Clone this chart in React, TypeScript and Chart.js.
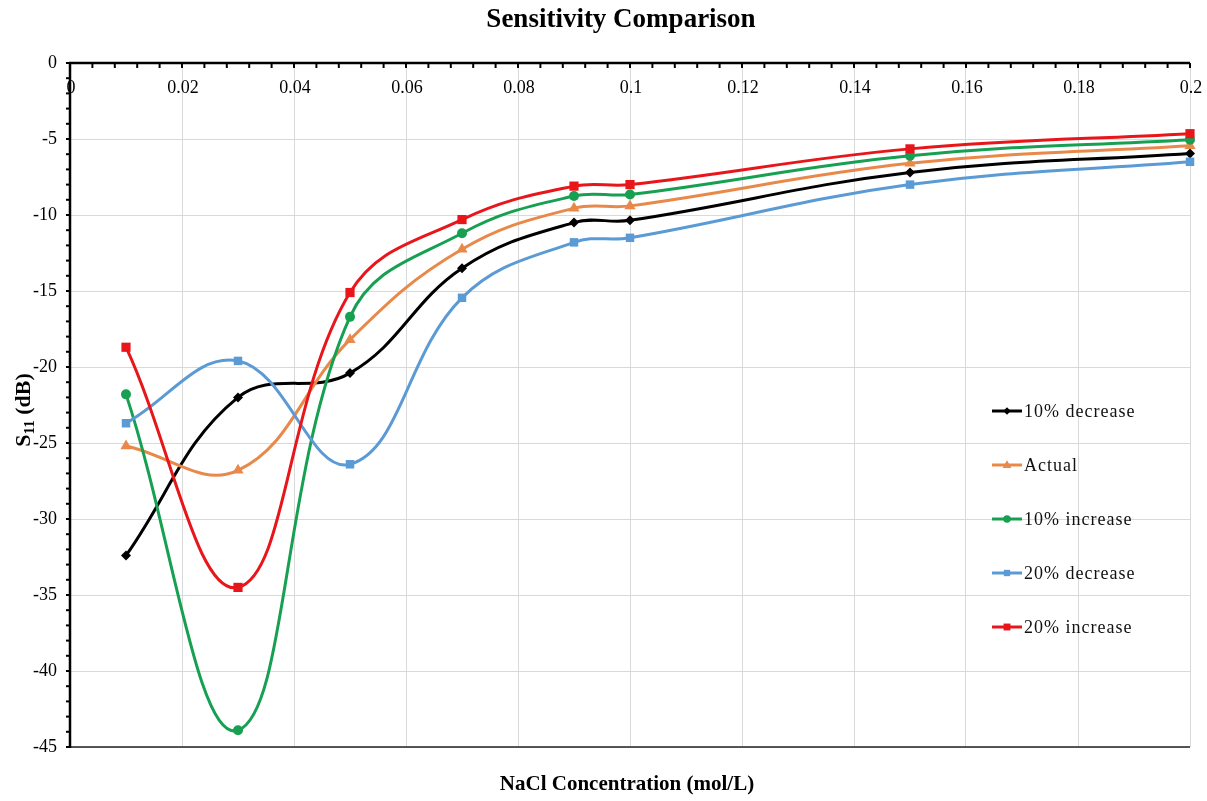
import React, { useEffect, useRef } from 'react';
import { Chart, registerables } from 'chart.js';

Chart.register(...registerables);

// ---------- data ----------
const concentrations = [0.01, 0.03, 0.05, 0.07, 0.09, 0.1, 0.15, 0.2];
const decrease10 = [-32.4, -22.0, -20.4, -13.5, -10.5, -10.35, -7.2, -5.95];
const actual = [-25.2, -26.8, -18.2, -12.25, -9.55, -9.4, -6.6, -5.45];
const increase10 = [-21.8, -43.9, -16.7, -11.2, -8.75, -8.65, -6.1, -5.05];
const decrease20 = [-23.7, -19.6, -26.4, -15.45, -11.8, -11.5, -8.0, -6.5];
const increase20 = [-18.7, -34.5, -15.1, -10.3, -8.1, -8.0, -5.65, -4.65];

const seriesNames = ['10% decrease', 'Actual', '10% increase', '20% decrease', '20% increase'];
const seriesValues = [decrease10, actual, increase10, decrease20, increase20];
const seriesColors = ['#000000', '#E8894A', '#17A052', '#5B9BD5', '#E8161A'];
const seriesMarkers = ['rectRot', 'triangle', 'circle', 'rect', 'rect'];
const markerRadius = [5, 6.5, 5, 6, 6.5];

const xTickValues = [0, 0.02, 0.04, 0.06, 0.08, 0.1, 0.12, 0.14, 0.16, 0.18, 0.2];
const xTickLabels = ['0', '0.02', '0.04', '0.06', '0.08', '0.1', '0.12', '0.14', '0.16', '0.18', '0.2'];

const chartTitle = 'Sensitivity Comparison';
const xTitle = 'NaCl Concentration (mol/L)';

const SERIF = "'Liberation Serif', 'Times New Roman', serif";

function drawMarker(ctx: CanvasRenderingContext2D, style: string, x: number, y: number, r: number, color: string) {
  ctx.save();
  ctx.fillStyle = color;
  ctx.beginPath();
  if (style === 'circle') {
    ctx.arc(x, y, r, 0, Math.PI * 2);
  } else if (style === 'rect') {
    const s = r * Math.SQRT1_2;
    ctx.rect(x - s, y - s, 2 * s, 2 * s);
  } else if (style === 'rectRot') {
    ctx.moveTo(x, y - r);
    ctx.lineTo(x + r, y);
    ctx.lineTo(x, y + r);
    ctx.lineTo(x - r, y);
    ctx.closePath();
  } else if (style === 'triangle') {
    ctx.moveTo(x, y - r);
    ctx.lineTo(x + r * 0.9, y + r * 0.6);
    ctx.lineTo(x - r * 0.9, y + r * 0.6);
    ctx.closePath();
  }
  ctx.fill();
  ctx.restore();
}

const decorPlugin = {
  id: 'decor',
  afterDraw(chart: any) {
    const ctx: CanvasRenderingContext2D = chart.ctx;
    const a = chart.chartArea;
    const xs = chart.scales.x;
    const ys = chart.scales.y;
    const line = (x1: number, y1: number, x2: number, y2: number) => {
      ctx.beginPath();
      ctx.moveTo(x1, y1);
      ctx.lineTo(x2, y2);
      ctx.stroke();
    };
    ctx.save();

    // bottom border line
    ctx.strokeStyle = '#222';
    ctx.lineWidth = 1.5;
    line(a.left, a.bottom, a.right, a.bottom);

    // left axis
    ctx.strokeStyle = '#000';
    ctx.lineWidth = 2.5;
    line(a.left, a.top - 1, a.left, a.bottom + 1);
    ctx.lineWidth = 2;
    const yMin = ys.min, yMax = ys.max;
    for (let v = yMin; v <= yMax + 1e-9; v += 1) {
      const py = ys.getPixelForValue(v);
      line(a.left - 4, py, a.left, py);
    }

    // top axis
    ctx.lineWidth = 2.5;
    line(a.left - 1, a.top, a.right, a.top);
    ctx.lineWidth = 2;
    const minor = 0.004;
    const n = Math.round((xs.max - xs.min) / minor);
    for (let i = 0; i <= n; i++) {
      const px = xs.getPixelForValue(xs.min + i * minor);
      line(px, a.top, px, a.top + 5);
    }

    // x tick labels (inside, below top axis)
    ctx.fillStyle = '#000';
    ctx.font = `18px ${SERIF}`;
    ctx.textAlign = 'center';
    ctx.textBaseline = 'middle';
    xTickValues.forEach((v, i) => {
      ctx.fillText(xTickLabels[i], xs.getPixelForValue(v) + 1, a.top + 25);
    });

    // chart title
    ctx.font = `bold 27px ${SERIF}`;
    ctx.fillText(chartTitle, 621, 20);

    // x title
    ctx.font = `bold 21px ${SERIF}`;
    ctx.fillText(xTitle, 627, 785);

    // y title with subscript
    ctx.save();
    ctx.translate(22, 410);
    ctx.rotate(-Math.PI / 2);
    ctx.textAlign = 'left';
    ctx.textBaseline = 'alphabetic';
    const big = `bold 22px ${SERIF}`;
    const small = `bold 15px ${SERIF}`;
    ctx.font = big;
    const wS = ctx.measureText('S').width;
    const wRest = ctx.measureText(' (dB)').width;
    ctx.font = small;
    const wSub = ctx.measureText('11').width;
    const total = wS + wSub + wRest;
    let cx = -total / 2;
    const base = 8;
    ctx.font = big;
    ctx.fillText('S', cx, base);
    cx += wS;
    ctx.font = small;
    ctx.fillText('11', cx, base + 4);
    cx += wSub;
    ctx.font = big;
    ctx.fillText(' (dB)', cx, base);
    ctx.restore();

    // legend
    ctx.font = `18px ${SERIF}`;
    (ctx as any).letterSpacing = '1px';
    ctx.textAlign = 'left';
    ctx.textBaseline = 'middle';
    seriesNames.forEach((name, i) => {
      const ly = 411 + i * 54;
      ctx.strokeStyle = seriesColors[i];
      ctx.lineWidth = 3;
      line(992, ly, 1022, ly);
      drawMarker(ctx, seriesMarkers[i], 1007, ly, markerRadius[i] * 0.75, seriesColors[i]);
      ctx.fillStyle = '#111';
      ctx.fillText(name, 1024, ly + 1);
    });
    (ctx as any).letterSpacing = '0px';

    ctx.restore();
  },
};

export default function App() {
  const canvasRef = useRef<HTMLCanvasElement | null>(null);

  useEffect(() => {
    const canvas = canvasRef.current;
    if (!canvas) return;
    const datasets = seriesNames.map((name, i) => ({
      label: name,
      data: concentrations.map((c, j) => ({ x: c, y: seriesValues[i][j] })),
      borderColor: seriesColors[i],
      backgroundColor: seriesColors[i],
      borderWidth: 3,
      pointStyle: seriesMarkers[i] as any,
      pointRadius: markerRadius[i],
      pointBorderWidth: 0,
      pointBackgroundColor: seriesColors[i],
      tension: 0.4,
      cubicInterpolationMode: 'default' as const,
      clip: false as any,
      order: seriesNames.length - 1 - i,
    }));

    const chart = new Chart(canvas, {
      type: 'line',
      data: { datasets },
      options: {
        responsive: false,
        animation: false,
        devicePixelRatio: 1,
        layout: { padding: { left: 0, right: 17, top: 63, bottom: 54 } },
        plugins: {
          legend: { display: false },
          title: { display: false },
          tooltip: { enabled: false },
        },
        scales: {
          x: {
            type: 'linear',
            position: 'bottom',
            min: 0,
            max: 0.2,
            ticks: { display: false, stepSize: 0.02 },
            grid: { color: '#d9d9d9', lineWidth: 1, drawTicks: false },
            border: { display: false },
            afterFit: (scale: any) => {
              scale.height = 0;
            },
          },
          y: {
            type: 'linear',
            position: 'left',
            min: -45,
            max: 0,
            ticks: {
              stepSize: 5,
              padding: 13,
              color: '#000',
              font: { family: SERIF, size: 18 },
            },
            grid: { color: '#d9d9d9', lineWidth: 1, drawTicks: false },
            border: { display: false },
            afterFit: (scale: any) => {
              scale.width = 70;
            },
          },
        },
      },
      plugins: [decorPlugin],
    });

    return () => chart.destroy();
  }, []);

  return (
    <div style={{ position: 'absolute', left: 0, top: 0, width: 1207, height: 801, background: '#fff' }}>
      <canvas ref={canvasRef} width={1207} height={801} style={{ width: 1207, height: 801, display: 'block' }} />
    </div>
  );
}
